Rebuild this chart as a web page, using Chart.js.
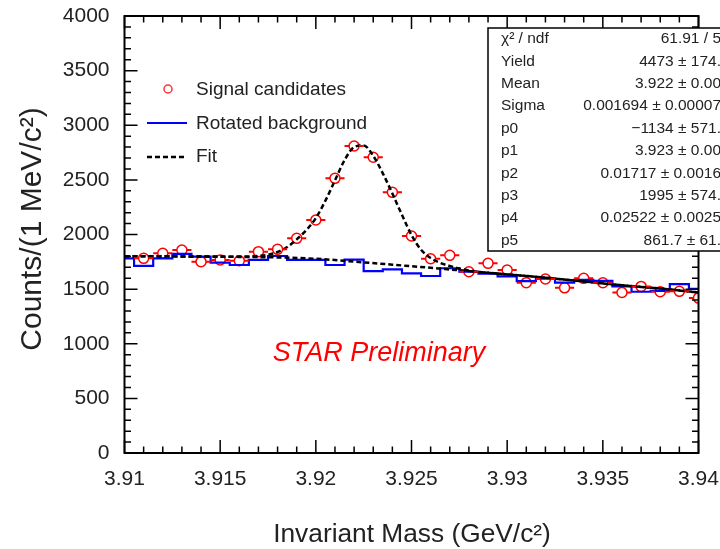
<!DOCTYPE html>
<html>
<head>
<meta charset="utf-8">
<script src="https://cdn.jsdelivr.net/npm/chart.js@4.4.1/dist/chart.umd.min.js"></script>
<style>
  html, body { margin: 0; padding: 0; background: #ffffff; }
  #wrap { width: 720px; height: 549px; position: relative; }
</style>
</head>
<body>
<div id="wrap"><canvas id="c"></canvas></div>
<script>
// ---- data ----
const massPoints = [3.911, 3.912, 3.913, 3.914, 3.915, 3.916, 3.917, 3.918, 3.919, 3.920,
                    3.921, 3.922, 3.923, 3.924, 3.925, 3.926, 3.927, 3.928, 3.929, 3.930,
                    3.931, 3.932, 3.933, 3.934, 3.935, 3.936, 3.937, 3.938, 3.939, 3.940];
const signalCounts = [1782, 1828, 1858, 1751, 1767, 1760, 1843, 1864, 1965, 2133,
                      2514, 2810, 2707, 2386, 1986, 1778, 1809, 1659, 1736, 1675,
                      1559, 1593, 1512, 1599, 1558, 1469, 1525, 1476, 1480, 1418];

const bgMass = [3.910, 3.911, 3.912, 3.913, 3.914, 3.915, 3.916, 3.917, 3.918, 3.919, 3.920,
                3.921, 3.922, 3.923, 3.924, 3.925, 3.926, 3.927, 3.928, 3.929, 3.930,
                3.931, 3.932, 3.933, 3.934, 3.935, 3.936, 3.937, 3.938, 3.939, 3.940];
const bgCounts = [1782, 1712, 1782, 1822, 1797, 1742, 1721, 1767, 1803, 1767, 1767,
                  1721, 1770, 1665, 1680, 1645, 1620, 1691, 1659, 1642, 1617,
                  1573, 1595, 1559, 1585, 1575, 1525, 1476, 1484, 1545, 1502];

const fitMass = [3.910, 3.912, 3.914, 3.916, 3.917, 3.9175, 3.918, 3.9185, 3.919, 3.9195,
                 3.920, 3.9205, 3.921, 3.9215, 3.922, 3.9225, 3.923, 3.9235, 3.924, 3.9245,
                 3.925, 3.9255, 3.926, 3.9265, 3.927, 3.928, 3.930, 3.932, 3.934, 3.936, 3.938, 3.940];
const fitCounts = [1800, 1800, 1799, 1797, 1805, 1815, 1840, 1885, 1955, 2040,
                   2150, 2310, 2495, 2680, 2800, 2815, 2720, 2560, 2375, 2180,
                   1995, 1860, 1785, 1740, 1712, 1670, 1635, 1605, 1570, 1535, 1505, 1470];

const bkgFitMass = [3.910, 3.912, 3.914, 3.916, 3.918, 3.920, 3.922, 3.924,
                    3.926, 3.928, 3.930, 3.932, 3.934, 3.936, 3.938, 3.940];
const bkgFitCounts = [1800, 1800, 1798, 1795, 1790, 1778, 1752, 1724,
                      1695, 1665, 1635, 1605, 1570, 1535, 1505, 1470];

const xTicks = [3.91, 3.915, 3.92, 3.925, 3.93, 3.935, 3.94];
const xTickLabels = ["3.91", "3.915", "3.92", "3.925", "3.93", "3.935", "3.94"];
const yTicks = [0, 500, 1000, 1500, 2000, 2500, 3000, 3500, 4000];
const yTickLabels = ["0", "500", "1000", "1500", "2000", "2500", "3000", "3500", "4000"];

const legendLabels = ["Signal candidates", "Rotated background", "Fit"];
const statNames = ["\u03C7\u00B2 / ndf", "Yield", "Mean", "Sigma", "p0", "p1", "p2", "p3", "p4", "p5"];
const statValues = ["61.91 / 5", "4473 \u00B1 174.", "3.922 \u00B1 0.00", "0.001694 \u00B1 0.00007",
                    "\u22121134 \u00B1 571.", "3.923 \u00B1 0.00", "0.01717 \u00B1 0.0016",
                    "1995 \u00B1 574.", "0.02522 \u00B1 0.0025", "861.7 \u00B1 61."];
const xTitle = "Invariant Mass (GeV/c\u00B2)";
const yTitle = "Counts/(1 MeV/c\u00B2)";
const watermark = "STAR Preliminary";

const binWidth = 0.001;
const FONT = "'Liberation Sans', Arial, Helvetica, sans-serif";

const toXY = (xs, ys) => xs.map((x, i) => ({ x: x, y: ys[i] }));

const decor = {
  id: 'decor',
  afterDatasetsDraw(chart) {
    const ctx = chart.ctx;
    const xs = chart.scales.x, ys = chart.scales.y;
    ctx.save();
    ctx.beginPath();
    ctx.rect(chart.chartArea.left, chart.chartArea.top, chart.chartArea.right - chart.chartArea.left, chart.chartArea.bottom - chart.chartArea.top);
    ctx.clip();
    ctx.strokeStyle = '#ff0000';
    ctx.lineWidth = 2;
    const r = 5;
    massPoints.forEach((m, i) => {
      const cx = xs.getPixelForValue(m);
      const cy = ys.getPixelForValue(signalCounts[i]);
      const xl = xs.getPixelForValue(m - binWidth / 2);
      const xr = xs.getPixelForValue(m + binWidth / 2);
      ctx.beginPath();
      ctx.moveTo(xl, cy); ctx.lineTo(cx - r, cy);
      ctx.moveTo(cx + r, cy); ctx.lineTo(xr, cy);
      ctx.stroke();
    });
    ctx.restore();
  },
  afterDraw(chart) {
    const ctx = chart.ctx;
    const a = chart.chartArea;
    const xs = chart.scales.x, ys = chart.scales.y;
    ctx.save();
    // ticks
    ctx.strokeStyle = '#000';
    ctx.lineWidth = 1.5;
    ctx.beginPath();
    for (let i = 0; i <= 30; i++) {
      const v = xTicks[0] + i * binWidth;
      const px = xs.getPixelForValue(v);
      const len = (i % 5 === 0) ? 13 : 6.5;
      ctx.moveTo(px, a.bottom); ctx.lineTo(px, a.bottom - len);
      ctx.moveTo(px, a.top); ctx.lineTo(px, a.top + len);
    }
    for (let i = 0; i <= 40; i++) {
      const v = i * 100;
      const py = ys.getPixelForValue(v);
      const len = (i % 5 === 0) ? 13 : 6.5;
      ctx.moveTo(a.left, py); ctx.lineTo(a.left + len, py);
      ctx.moveTo(a.right, py); ctx.lineTo(a.right - len, py);
    }
    ctx.stroke();
    // frame
    ctx.lineWidth = 2;
    ctx.strokeRect(a.left, a.top, a.right - a.left, a.bottom - a.top);

    // axis titles
    ctx.fillStyle = '#222';
    ctx.textAlign = 'center';
    ctx.textBaseline = 'middle';
    ctx.font = '26.3px ' + FONT;
    ctx.fillText(xTitle, 412, 535);
    ctx.save();
    ctx.translate(33, 229);
    ctx.rotate(-Math.PI / 2);
    ctx.font = '30px ' + FONT;
    ctx.fillText(yTitle, 0, 0);
    ctx.restore();

    // watermark
    ctx.fillStyle = '#ff0000';
    ctx.font = 'italic 27px ' + FONT;
    ctx.fillText(watermark, 379, 353);

    // legend
    ctx.textAlign = 'left';
    ctx.fillStyle = '#222';
    ctx.font = '19px ' + FONT;
    ctx.strokeStyle = '#ff3030';
    ctx.lineWidth = 1.5;
    ctx.beginPath(); ctx.arc(168, 89, 4, 0, Math.PI * 2); ctx.stroke();
    ctx.fillText(legendLabels[0], 196, 90);
    ctx.strokeStyle = '#0000ff';
    ctx.lineWidth = 2;
    ctx.beginPath(); ctx.moveTo(147, 123); ctx.lineTo(187, 123); ctx.stroke();
    ctx.fillText(legendLabels[1], 196, 124);
    ctx.strokeStyle = '#000';
    ctx.lineWidth = 2.5;
    ctx.setLineDash([5, 3]);
    ctx.beginPath(); ctx.moveTo(147, 157); ctx.lineTo(187, 157); ctx.stroke();
    ctx.setLineDash([]);
    ctx.fillText(legendLabels[2], 196, 157);

    // stats box
    ctx.fillStyle = '#fff';
    ctx.fillRect(488, 28, 240, 223);
    ctx.strokeStyle = '#000';
    ctx.lineWidth = 1.5;
    ctx.strokeRect(488, 28, 240, 223);
    ctx.font = '15.5px ' + FONT;
    ctx.fillStyle = '#222';
    statNames.forEach((n, i) => {
      const y = 39 + i * 22.4;
      ctx.textAlign = 'left';
      ctx.fillText(n, 501, y);
      ctx.textAlign = 'right';
      ctx.fillText(statValues[i], 721, y);
    });
    ctx.restore();
  }
};

new Chart(document.getElementById('c'), {
  type: 'line',
  data: {
    datasets: [
      {
        label: legendLabels[2],
        data: toXY(fitMass, fitCounts),
        borderColor: '#000',
        borderWidth: 2.5,
        borderDash: [5, 3],
        pointRadius: 0,
        fill: false,
        cubicInterpolationMode: 'monotone',
        order: 0
      },
      {
        label: 'bkg',
        data: toXY(bkgFitMass, bkgFitCounts),
        borderColor: '#000',
        borderWidth: 2.5,
        borderDash: [5, 3],
        pointRadius: 0,
        fill: false,
        cubicInterpolationMode: 'monotone',
        order: 1
      },
      {
        label: legendLabels[1],
        data: toXY(bgMass, bgCounts),
        borderColor: '#0000ff',
        borderWidth: 2.2,
        pointRadius: 0,
        stepped: 'middle',
        fill: false,
        order: 2
      },
      {
        label: legendLabels[0],
        data: toXY(massPoints, signalCounts),
        showLine: false,
        pointStyle: 'circle',
        pointRadius: 5,
        pointBorderColor: '#ff0000',
        pointBackgroundColor: 'rgba(0,0,0,0)',
        pointBorderWidth: 1.5,
        order: 3
      }
    ]
  },
  options: {
    responsive: true,
    maintainAspectRatio: false,
    animation: false,
    devicePixelRatio: 1,
    layout: { padding: { top: 16, right: 21.5, left: 0, bottom: 0 } },
    plugins: { legend: { display: false }, tooltip: { enabled: false } },
    scales: {
      x: {
        type: 'linear',
        min: 3.91, max: 3.94,
        afterBuildTicks: (s) => { s.ticks = xTicks.map(v => ({ value: v })); },
        afterFit: (s) => { s.height = 96; s.paddingLeft = 0; s.paddingRight = 0; },
        grid: { display: false, drawTicks: false },
        border: { display: false },
        ticks: {
          padding: 14,
          color: '#222',
          font: { family: FONT, size: 21 },
          maxRotation: 0,
          autoSkip: false,
          callback: (v, i) => xTickLabels[i]
        }
      },
      y: {
        type: 'linear',
        min: 0, max: 4000,
        afterBuildTicks: (s) => { s.ticks = yTicks.map(v => ({ value: v })); },
        afterFit: (s) => { s.width = 124.5; s.paddingTop = 0; s.paddingBottom = 0; },
        grid: { display: false, drawTicks: false },
        border: { display: false },
        ticks: {
          padding: 15,
          color: '#222',
          font: { family: FONT, size: 21 },
          autoSkip: false,
          callback: (v, i) => yTickLabels[i]
        }
      }
    }
  },
  plugins: [decor]
});
</script>
</body>
</html>
